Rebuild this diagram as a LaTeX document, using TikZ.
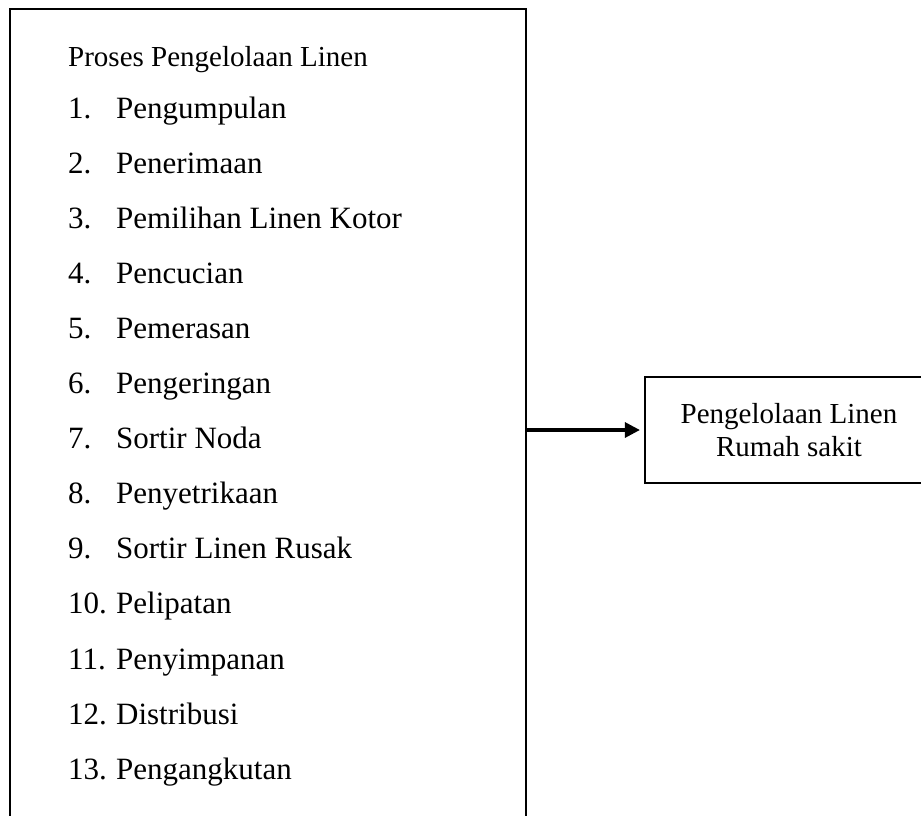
\documentclass[tikz,border=0pt]{standalone}
\usepackage{fontspec}
\setmainfont{Liberation Serif}
\usepackage{tikz}
\usetikzlibrary{arrows.meta, positioning}

\begin{document}
\begin{tikzpicture}[x=1pt, y=-1pt, >={Triangle[length=15pt, width=15pt]}]
    \tikzstyle{frame} = [rectangle, draw, line width=2.2pt, inner sep=0pt]
    \tikzstyle{item} = [anchor=base west, inner sep=0pt, font=\fontsize{31}{37}\selectfont]
    \tikzstyle{title} = [anchor=base west, inner sep=0pt, font=\fontsize{29}{33}\selectfont]

    \path[use as bounding box, clip] (0,0) rectangle (921,815);

    \node [frame, minimum width=516pt, minimum height=842pt] (proses) at (268,430) {};
    \node [frame, minimum width=288pt, minimum height=106pt, align=center,
           font=\fontsize{29}{33}\selectfont] (hasil) at (789,430) {Pengelolaan Linen\\Rumah sakit};

    \node [title] (judul) at (68,66.7) {Proses Pengelolaan Linen};
    \foreach \name [count=\i] in {Pengumpulan, Penerimaan, Pemilihan Linen Kotor, Pencucian,
        Pemerasan, Pengeringan, Sortir Noda, Penyetrikaan, Sortir Linen Rusak,
        Pelipatan, Penyimpanan, Distribusi, Pengangkutan}
        \node [item] (item\i) at (68,{118+(\i-1)*55.1}) {\makebox[48pt][l]{\i.}\name};

    % Connections
    \draw[->, line width=3.2pt, shorten >=4pt] (proses.east) -- (hasil.west);
\end{tikzpicture}
\end{document}
